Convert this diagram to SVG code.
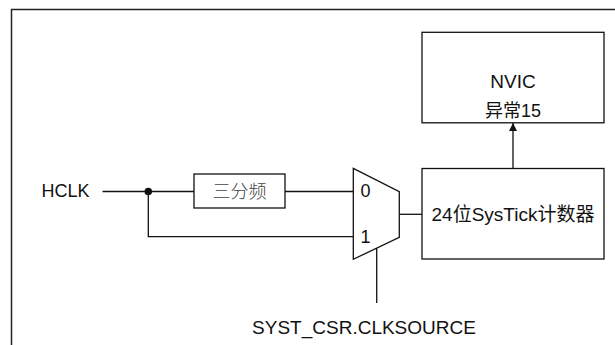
<svg xmlns="http://www.w3.org/2000/svg" width="615" height="345" viewBox="0 0 615 345">
<defs>
<style>
.t{font-family:"Liberation Sans","Noto Sans CJK SC",sans-serif;font-size:18px;fill:#111}
.big{font-size:19px}
.box{fill:#fff;stroke:#111;stroke-width:1.3}
.ln{fill:none;stroke:#111;stroke-width:1.3}
</style>
<marker id="ah" viewBox="0 0 10 10" refX="10" refY="5" markerWidth="8" markerHeight="10" markerUnits="userSpaceOnUse" orient="auto">
<path d="M0,0 L10,5 L0,10 z" fill="#111"/>
</marker>
</defs>
<rect width="615" height="345" fill="#fff"/>
<g id="frame">
<path d="M11.5,345 V9.5 H615" fill="none" stroke="#222" stroke-width="1.5"/>
</g>
<g id="connectors">
<line class="ln" x1="102.5" y1="191.5" x2="194" y2="191.5"/>
<line class="ln" x1="285" y1="191.5" x2="353.3" y2="191.5"/>
<polyline class="ln" points="148.3,191.5 148.3,236.7 353.3,236.7"/>
<circle cx="148.3" cy="191.5" r="3.8" fill="#111"/>
<line class="ln" x1="399.3" y1="214.3" x2="422" y2="214.3"/>
<line class="ln" x1="376.7" y1="248.1" x2="376.7" y2="303"/>
<line class="ln" x1="513" y1="168.5" x2="513" y2="123" marker-end="url(#ah)"/>
</g>
<g id="hclk">
<text class="t" x="41.5" y="196.7">HCLK</text>
</g>
<g id="div3">
<rect class="box" x="194" y="174" width="91" height="34"/>
<text class="t" x="239.5" y="198" text-anchor="middle" style="fill:#444;font-weight:300">三分频</text>
</g>
<g id="mux">
<polygon class="box" points="353.3,168.3 399.3,191.7 399.3,237.3 353.3,259.3"/>
<text class="t" x="360.5" y="196.7">0</text>
<text class="t" x="360.5" y="242.5">1</text>
</g>
<g id="systick">
<rect class="box" x="422" y="168.5" width="182" height="90.5"/>
<text class="t big" x="513" y="221" text-anchor="middle">24位SysTick计数器</text>
</g>
<g id="nvic">
<rect class="box" x="422" y="32.3" width="182" height="90.5"/>
<text class="t big" x="513" y="88" text-anchor="middle">NVIC</text>
<text class="t" x="513" y="117" text-anchor="middle">异常15</text>
</g>
<g id="clksource">
<text class="t big" x="364" y="334" text-anchor="middle">SYST_CSR.CLKSOURCE</text>
</g>
</svg>
